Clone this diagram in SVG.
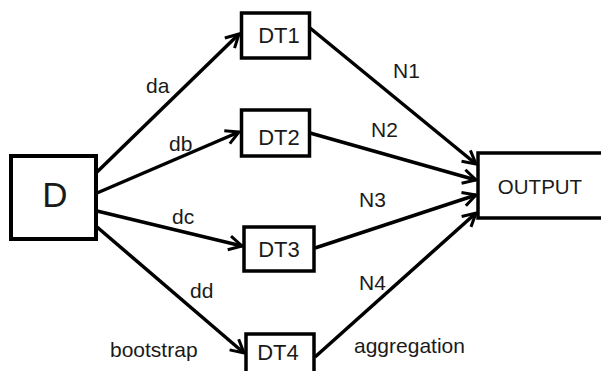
<svg xmlns="http://www.w3.org/2000/svg" width="601" height="371" viewBox="0 0 601 371">
<defs>
<style>
.box{fill:#fff;stroke:#000;stroke-width:3.5}
.t{font-family:"Liberation Sans",Arial,sans-serif;font-size:21px;fill:#1a1a1a}
.c{text-anchor:middle}
.e{stroke:#000;stroke-width:3.5;fill:none;marker-end:url(#ah)}
</style>
<marker id="ah" markerUnits="userSpaceOnUse" viewBox="-16 -10 20 20" refX="0" refY="0" markerWidth="20" markerHeight="20" orient="auto">
<path d="M-13,-7 L0,0 L-13,7" fill="none" stroke="#000" stroke-width="3"/>
</marker>
</defs>
<rect width="601" height="371" fill="#fff"/>
<g id="connectors">
<line class="e" x1="97" y1="172" x2="239" y2="34"/>
<line class="e" x1="97" y1="193" x2="239" y2="132"/>
<line class="e" x1="97" y1="211" x2="242" y2="246"/>
<line class="e" x1="97" y1="227" x2="244" y2="353"/>
<line class="e" x1="310" y1="28" x2="476" y2="164"/>
<line class="e" x1="310" y1="133" x2="476" y2="180"/>
<line class="e" x1="315" y1="248" x2="476" y2="195"/>
<line class="e" x1="315" y1="357" x2="476" y2="213"/>
<text class="t" x="146" y="93">da</text>
<text class="t" x="169" y="151">db</text>
<text class="t" x="172" y="224">dc</text>
<text class="t" x="190" y="298">dd</text>
<text class="t" x="110" y="357">bootstrap</text>
<text class="t" x="393" y="78">N1</text>
<text class="t" x="371" y="137">N2</text>
<text class="t" x="359" y="207">N3</text>
<text class="t" x="359" y="290">N4</text>
<text class="t" x="354" y="353">aggregation</text>
</g>
<g id="D">
<rect class="box" x="11" y="156" width="85" height="83" style="stroke-width:4"/>
<text class="t c" x="55" y="207" style="font-size:35px">D</text>
</g>
<g id="DT1">
<rect class="box" x="241.5" y="13" width="68" height="45"/>
<text class="t c" x="279" y="43" style="font-size:22px">DT1</text>
</g>
<g id="DT2">
<rect class="box" x="241.5" y="110" width="68" height="46"/>
<text class="t c" x="279" y="145" style="font-size:22px">DT2</text>
</g>
<g id="DT3">
<rect class="box" x="244" y="227" width="70" height="44"/>
<text class="t c" x="279" y="257" style="font-size:22px">DT3</text>
</g>
<g id="DT4">
<rect class="box" x="246" y="334" width="68" height="50"/>
<text class="t c" x="278" y="360" style="font-size:22px">DT4</text>
</g>
<g id="OUTPUT">
<rect class="box" x="478" y="153" width="140" height="65"/>
<text class="t c" x="540" y="194" style="font-size:20.5px">OUTPUT</text>
</g>
</svg>
